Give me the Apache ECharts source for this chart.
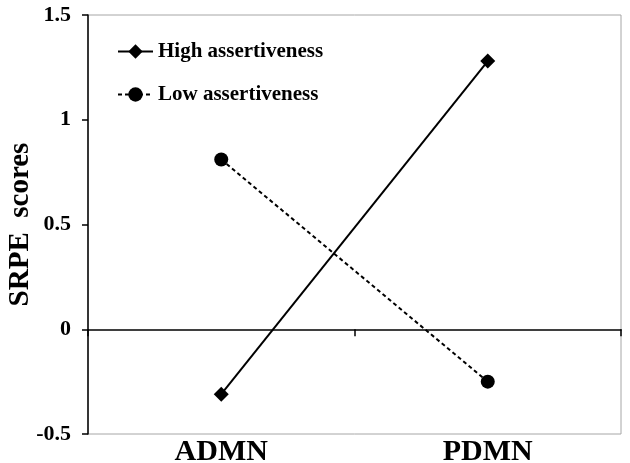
<!DOCTYPE html>
<html>
<head>
<meta charset="utf-8">
<script src="https://cdn.jsdelivr.net/npm/echarts@6/dist/echarts.min.js"></script>
<style>html,body{margin:0;padding:0;background:#fff}#c{width:630px;height:463px}</style>
</head>
<body>
<div id="c"></div>
<script>
const categories = ['ADMN', 'PDMN'];
const highAssertiveness = [-0.31, 1.28];
const lowAssertiveness = [0.81, -0.25];
const yTicks = { min: -0.5, max: 1.5, interval: 0.5 };
const seriesNames = ['High assertiveness', 'Low assertiveness'];
const yName = 'SRPE  scores';

const serif = '"Liberation Serif", "Times New Roman", serif';
const chart = echarts.init(document.getElementById('c'));
chart.setOption({
  animation: false,
  backgroundColor: '#fff',
  grid: { left: 88, top: 15, right: 9, bottom: 29, show: true, borderColor: '#a6a6a6', borderWidth: 1, outerBoundsMode: 'none', containLabel: false },
  legend: {
    left: 112, top: 36, orient: 'vertical', itemGap: 22, itemWidth: 35, itemHeight: 18,
    textStyle: { fontFamily: serif, fontWeight: 'bold', fontSize: 21, color: '#000' },
    data: seriesNames
  },
  xAxis: [
    {
      type: 'category', data: categories, position: 'bottom',
      axisLine: { show: false, onZero: false }, axisTick: { show: false },
      axisLabel: { fontFamily: serif, fontWeight: 'bold', fontSize: 30, color: '#000', margin: 3 }
    },
    {
      type: 'category', data: categories, position: 'bottom',
      axisLine: { show: true, onZero: true, onZeroAxisIndex: 0, lineStyle: { color: '#000', width: 1.5 } },
      axisTick: { show: true, length: 7, lineStyle: { color: '#000', width: 1.5 } },
      axisLabel: { show: false }
    }
  ],
  yAxis: {
    type: 'value', min: yTicks.min, max: yTicks.max, interval: yTicks.interval,
    name: yName, nameLocation: 'middle', nameGap: 53, nameRotate: 90, nameMoveOverlap: false,
    nameTextStyle: { fontFamily: serif, fontWeight: 'bold', fontSize: 29, color: '#000' },
    axisLine: { show: true, lineStyle: { color: '#000', width: 1.5 } },
    axisTick: { show: true, length: 6, lineStyle: { color: '#000', width: 1.5 } },
    splitLine: { show: false },
    axisLabel: { fontFamily: serif, fontWeight: 'bold', fontSize: 22, color: '#000', margin: 17 }
  },
  series: [
    {
      name: seriesNames[0], type: 'line', data: highAssertiveness, xAxisIndex: 0,
      symbol: 'diamond', symbolSize: 15,
      itemStyle: { color: '#000' }, lineStyle: { color: '#000', width: 2, type: 'solid' }
    },
    {
      name: seriesNames[1], type: 'line', data: lowAssertiveness, xAxisIndex: 0,
      symbol: 'circle', symbolSize: 14,
      itemStyle: { color: '#000' }, lineStyle: { color: '#000', width: 2, type: [4, 3] }
    }
  ]
});
</script>
</body>
</html>
